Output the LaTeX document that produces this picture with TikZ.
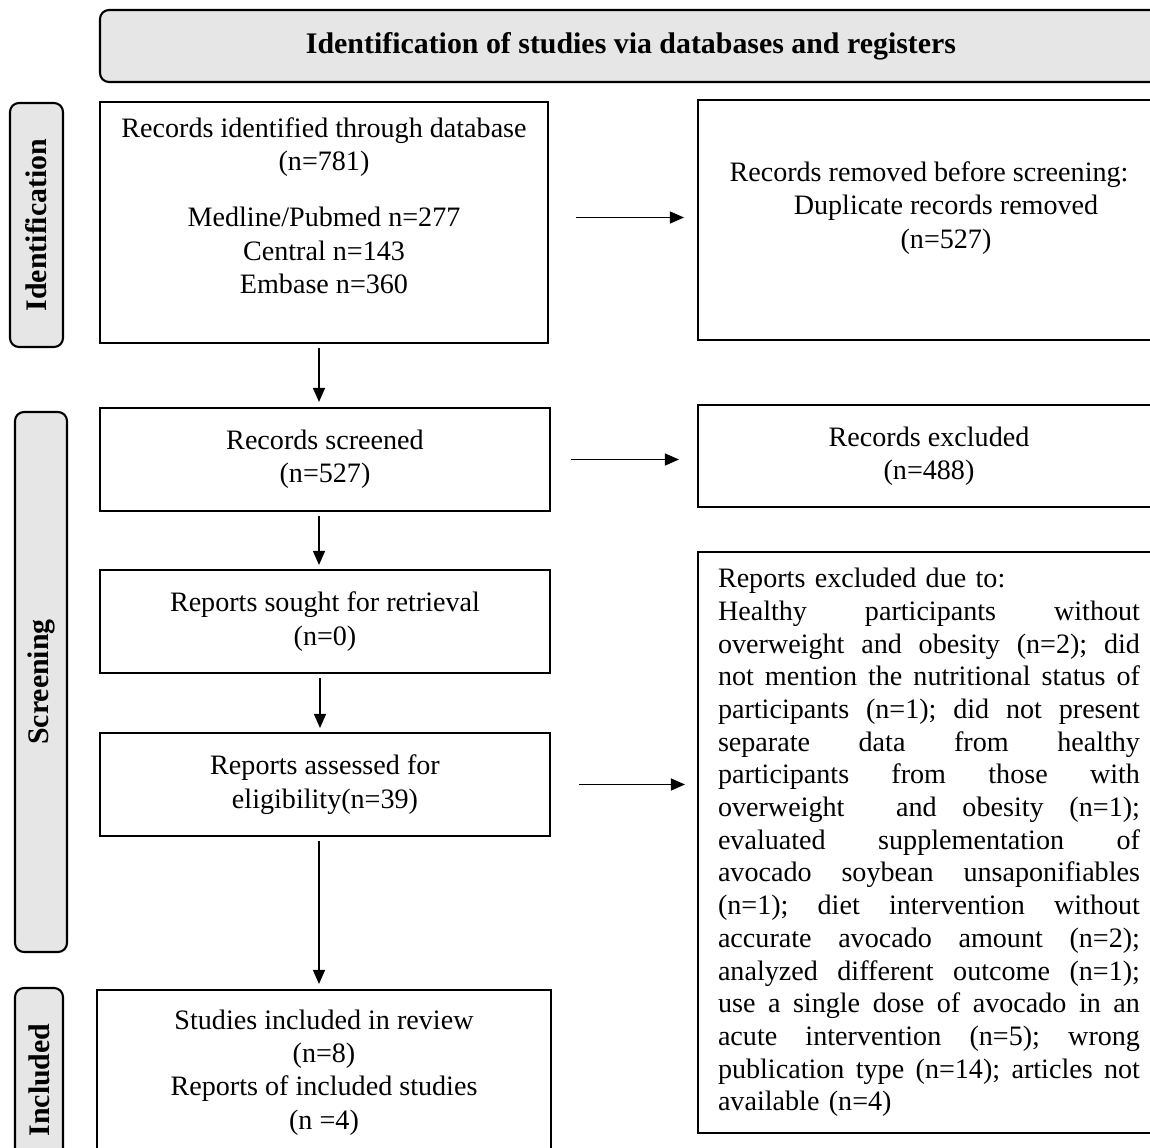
\documentclass[tikz,border=0pt]{standalone}
\usepackage{fontspec}
\setmainfont{Liberation Serif}
\usepackage{tikz}
\usetikzlibrary{arrows.meta}
\definecolor{phasegray}{RGB}{230,230,230}
\newcommand{\fullline}[1]{\leavevmode\hbox to 8.44cm{#1}}

\begin{document}
\begin{tikzpicture}[
  flowbox/.style={draw, line width=1.2pt, align=center, inner sep=0.1cm, font=\fontsize{16}{19}\selectfont},
  phase/.style={draw, line width=1.2pt, fill=phasegray, rounded corners=0.18cm, font=\fontsize{17}{20}\selectfont\bfseries},
  flow/.style={-{Triangle[length=0.28cm,width=0.24cm]}, line width=0.8pt}
]
\useasboundingbox (0,0) rectangle (23,-22.94);
\clip (0,0) rectangle (23,-22.94);
% Header and phase labels
\node[phase, minimum width=21.24cm, minimum height=1.44cm] (head) at (12.62,-0.92) {Identification of studies via databases and registers};
\node[phase, rotate=90, minimum width=4.88cm, minimum height=1.06cm] (identlab) at (0.73,-4.5) {Identification};
\node[phase, rotate=90, minimum width=10.8cm, minimum height=1.04cm] (screenlab) at (0.82,-13.64) {Screening};
\node[phase, rotate=90, minimum width=3.68cm, minimum height=0.96cm] (incllab) at (0.78,-21.6) {Included};
% Main column
\node[flowbox, minimum width=8.96cm, minimum height=4.82cm] (records) at (6.48,-4.45)
  {Records identified through database\\(n=781)\\[0.45cm]Medline/Pubmed n=277\\Central n=143\\Embase n=360\\[0.01cm]\mbox{}};
\node[flowbox, minimum width=9cm, minimum height=2.06cm] (screened) at (6.5,-9.19) {Records screened\\(n=527)};
\node[flowbox, minimum width=9cm, minimum height=2.06cm] (sought) at (6.5,-12.43) {Reports sought for retrieval\\(n=0)};
\node[flowbox, minimum width=9cm, minimum height=2.06cm] (assessed) at (6.5,-15.69) {Reports assessed for\\eligibility(n=39)};
\node[flowbox, minimum width=9.08cm, minimum height=3.3cm] (included) at (6.48,-21.45)
  {Studies included in review\\(n=8)\\Reports of included studies\\(n =4)};
% Side column
\node[flowbox, minimum width=9.24cm, minimum height=4.8cm] (removed) at (18.58,-4.4)
  {Records removed before screening:\\\hspace*{0.68cm}Duplicate records removed\\\hspace*{0.68cm}(n=527)\\[-0.06cm]\mbox{}};
\node[flowbox, minimum width=9.24cm, minimum height=2.04cm] (excluded) at (18.58,-9.12) {Records excluded\\(n=488)};
\node[flowbox, align=left, text width=8.44cm, inner xsep=0.4cm, minimum height=11.62cm,
  font=\fontsize{16}{18.6}\selectfont] (reasons) at (18.58,-16.85)
  {Reports excluded due to:\\
   \fullline{Healthy\hfill participants\hfill without}\\
   \fullline{overweight\hfill and\hfill obesity\hfill (n=2);\hfill did}\\
   \fullline{not\hfill mention\hfill the\hfill nutritional\hfill status\hfill of}\\
   \fullline{participants\hfill (n=1);\hfill did\hfill not\hfill present}\\
   \fullline{separate\hfill data\hfill from\hfill healthy}\\
   \fullline{participants\hfill from\hfill those\hfill with}\\
   \fullline{overweight\hfill\hfill and\hfill obesity\hfill (n=1);}\\
   \fullline{evaluated\hfill supplementation\hfill of}\\
   \fullline{avocado\hfill soybean\hfill unsaponifiables}\\
   \fullline{(n=1);\hfill diet\hfill intervention\hfill without}\\
   \fullline{accurate\hfill avocado\hfill amount\hfill (n=2);}\\
   \fullline{analyzed\hfill different\hfill outcome\hfill (n=1);}\\
   \fullline{use\hfill a\hfill single\hfill dose\hfill of\hfill avocado\hfill in\hfill an}\\
   \fullline{acute\hfill intervention\hfill (n=5);\hfill wrong}\\
   \fullline{publication\hfill type\hfill (n=14);\hfill articles\hfill not}\\
   available (n=4)};
% Arrows
\draw[flow, shorten <=0.08cm, shorten >=0.1cm] ([xshift=-0.1cm]records.south) -- ([xshift=-0.1cm]records.south |- screened.north);
\draw[flow, shorten <=0.08cm, shorten >=0.08cm] ([xshift=-0.12cm]screened.south) -- ([xshift=-0.12cm]sought.north);
\draw[flow, shorten <=0.08cm, shorten >=0.08cm] ([xshift=-0.1cm]sought.south) -- ([xshift=-0.1cm]assessed.north);
\draw[flow, shorten <=0.08cm, shorten >=0.1cm] ([xshift=-0.12cm]assessed.south) -- ([xshift=-0.12cm]assessed.south |- included.north);
\draw[flow, shorten <=0.54cm, shorten >=0.26cm] ([yshift=0.1cm]records.east) -- ([yshift=0.1cm]records.east -| removed.west);
\draw[flow, shorten <=0.4cm, shorten >=0.36cm] (screened.east) -- (screened.east -| excluded.west);
\draw[flow, shorten <=0.56cm, shorten >=0.24cm] (assessed.east) -- (assessed.east -| reasons.west);
\end{tikzpicture}
\end{document}
